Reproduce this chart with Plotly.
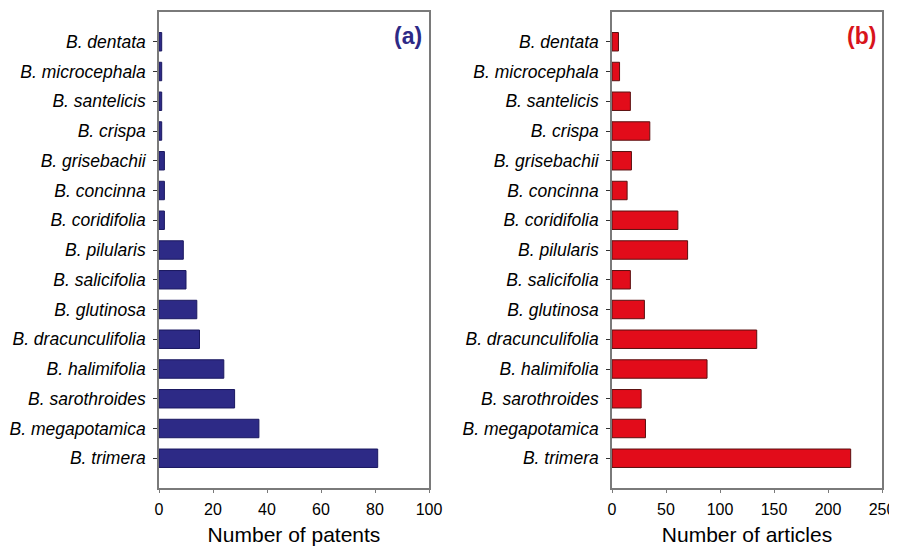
import plotly.graph_objects as go

species = ["B. dentata", "B. microcephala", "B. santelicis", "B. crispa", "B. grisebachii",
           "B. concinna", "B. coridifolia", "B. pilularis", "B. salicifolia", "B. glutinosa",
           "B. dracunculifolia", "B. halimifolia", "B. sarothroides", "B. megapotamica", "B. trimera"]
patents = [1, 1, 1, 1, 2, 2, 2, 9, 10, 14, 15, 24, 28, 37, 81]
articles = [6, 7, 17, 35, 18, 14, 61, 70, 17, 30, 134, 88, 27, 31, 221]
patent_ticks = [0, 20, 40, 60, 80, 100]
article_ticks = [0, 50, 100, 150, 200, 250]

# the page body has an 8px margin, so the figure is drawn offset by (8, 8)
OX, OY = 8, 8
W, H = 897 - OX, 546 - OY
FONT = "Liberation Sans, Arial, sans-serif"
frame = "#7a7a7a"

def px_x(p):
    return (p - OX) / W

def px_y(p):
    return 1 - (p - OY) / H

fig = go.Figure()
fig.add_trace(go.Bar(y=species, x=patents, orientation="h", xaxis="x", yaxis="y",
                     marker=dict(color="#2d2a86", line=dict(color="#1a1860", width=1)),
                     width=0.62, showlegend=False))
fig.add_trace(go.Bar(y=species, x=articles, orientation="h", xaxis="x2", yaxis="y2",
                     marker=dict(color="#e20c1a", line=dict(color="#5a1010", width=1)),
                     width=0.62, showlegend=False))

def xax(domain, ticks, rng, title, anchor):
    return dict(domain=domain, range=rng, tickvals=ticks, ticktext=[str(t) for t in ticks],
                showline=True, linecolor=frame, linewidth=1.5, mirror=True,
                ticks="outside", ticklen=3, tickcolor=frame, showgrid=False, zeroline=False,
                tickfont=dict(family=FONT, size=16, color="black"), automargin=False,
                ticklabelstandoff=3,
                title=dict(text=title, font=dict(family=FONT, size=21, color="black"), standoff=12),
                anchor=anchor, fixedrange=True)

def yax(domain, anchor):
    return dict(domain=domain, type="category", categoryorder="array", categoryarray=species,
                range=[15.0, -1.0], showline=True, linecolor=frame, linewidth=1.5, mirror=True,
                ticks="outside", ticklen=4, tickcolor="#333333", showgrid=False, automargin=False,
                tickfont=dict(family=FONT, size=17.5, color="black", style="italic"),
                ticklabelstandoff=4, anchor=anchor, fixedrange=True)

ydom = [px_y(488), px_y(12)]
fig.update_layout(
    width=W, height=H, margin=dict(l=0, r=0, t=0, b=0),
    paper_bgcolor="white", plot_bgcolor="white", bargap=0.38,
    xaxis=xax([px_x(159), px_x(429)], patent_ticks, [0, 100], "Number of patents", "y"),
    yaxis=yax(ydom, "x"),
    xaxis2=xax([px_x(612), px_x(882)], article_ticks, [0, 250], "Number of articles", "y2"),
    yaxis2=yax(ydom, "x2"),
    annotations=[
        dict(text="<b>(a)</b>", x=px_x(424), y=px_y(36), xref="paper", yref="paper",
             xanchor="right", yanchor="middle", showarrow=False,
             font=dict(family=FONT, size=23, color="#2d2a86")),
        dict(text="<b>(b)</b>", x=px_x(878), y=px_y(36), xref="paper", yref="paper",
             xanchor="right", yanchor="middle", showarrow=False,
             font=dict(family=FONT, size=23, color="#d8141c")),
    ],
)
fig.write_html("out.html")
